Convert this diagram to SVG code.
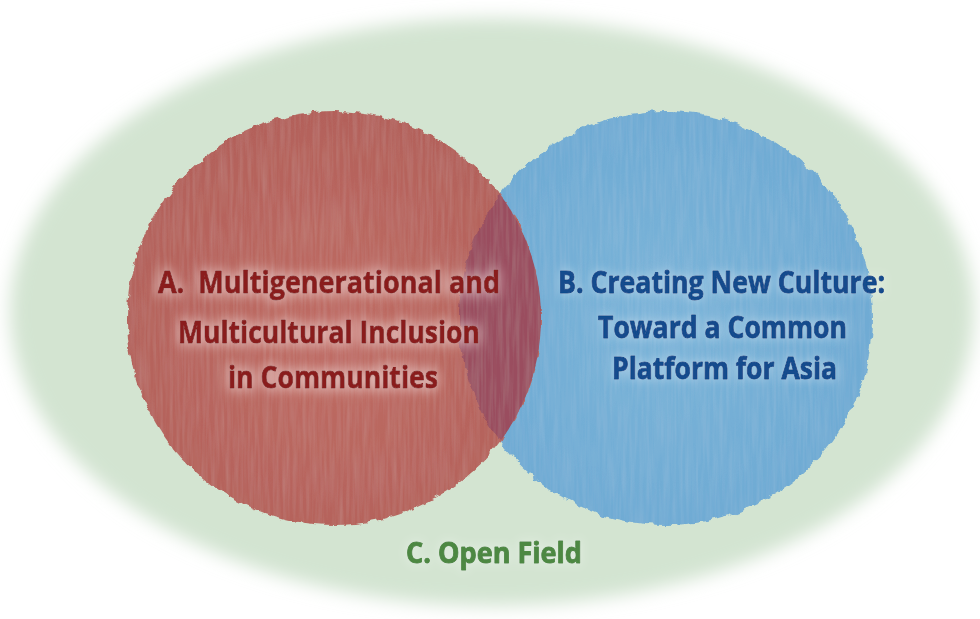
<svg xmlns="http://www.w3.org/2000/svg" width="980" height="619" viewBox="0 0 980 619">
  <defs>
    <style>
      .lbl { font-family: "Open Sans", "Liberation Sans", "DejaVu Sans", sans-serif; font-weight: bold; white-space: pre; stroke-width: 0.9px; stroke-linejoin: round; }
      .lbl-a { fill: #8a1d1d; stroke: #8a1d1d; font-size: 30px; }
      .lbl-b { fill: #124b8d; stroke: #124b8d; font-size: 30px; }
      .lbl-c { fill: #4d8843; stroke: #4d8843; font-size: 28px; }
    </style>
    <!-- soft edge of the open field -->
    <filter id="haze" x="-5%" y="-5%" width="110%" height="110%">
      <feGaussianBlur stdDeviation="9"/>
    </filter>
    <!-- watercolour wash: ragged rim plus faint vertical brush streaks -->
    <filter id="wash" x="-6%" y="-6%" width="112%" height="112%">
      <feTurbulence type="fractalNoise" baseFrequency="0.09" numOctaves="3" seed="4" result="noise"/>
      <feDisplacementMap in="SourceGraphic" in2="noise" scale="8" xChannelSelector="R" yChannelSelector="G" result="rough"/>
      <feTurbulence type="fractalNoise" baseFrequency="0.3 0.02" numOctaves="2" seed="9" result="grain"/>
      <feColorMatrix in="grain" type="matrix" values="0 0 0 0 1  0 0 0 0 1  0 0 0 0 1  0 0 0 0.12 -0.04" result="streak"/>
      <feComposite in="streak" in2="rough" operator="in" result="streakIn"/>
      <feMerge>
        <feMergeNode in="rough"/>
        <feMergeNode in="streakIn"/>
      </feMerge>
    </filter>
    <!-- pale halo behind the labels -->
    <filter id="glow" x="-15%" y="-60%" width="130%" height="220%">
      <feMorphology in="SourceAlpha" operator="dilate" radius="2" result="fat"/>
      <feGaussianBlur in="fat" stdDeviation="6" result="blur"/>
      <feColorMatrix in="blur" type="matrix" values="0 0 0 0 1  0 0 0 0 0.93  0 0 0 0 0.93  0 0 0 0.45 0" result="halo"/>
      <feMerge>
        <feMergeNode in="halo"/>
        <feMergeNode in="SourceGraphic"/>
      </feMerge>
    </filter>
    <filter id="glowSoft" x="-15%" y="-60%" width="130%" height="220%">
      <feMorphology in="SourceAlpha" operator="dilate" radius="1" result="fat"/>
      <feGaussianBlur in="fat" stdDeviation="5" result="blur"/>
      <feColorMatrix in="blur" type="matrix" values="0 0 0 0 1  0 0 0 0 1  0 0 0 0 1  0 0 0 0.3 0" result="halo"/>
      <feMerge>
        <feMergeNode in="halo"/>
        <feMergeNode in="SourceGraphic"/>
      </feMerge>
    </filter>
    <clipPath id="clipA">
      <circle cx="334" cy="318" r="207"/>
    </clipPath>
    <radialGradient id="redFill" cx="0.5" cy="0.55" r="0.55">
      <stop offset="0" stop-color="#bf6c64"/>
      <stop offset="1" stop-color="#b3615a"/>
    </radialGradient>
    <radialGradient id="blueFill" cx="0.5" cy="0.5" r="0.55">
      <stop offset="0" stop-color="#7bb4d9"/>
      <stop offset="1" stop-color="#6eaad3"/>
    </radialGradient>
  </defs>

  <rect width="980" height="619" fill="#ffffff"/>

  <!-- C: the open field -->
  <g id="node-c">
    <ellipse cx="492" cy="312" rx="482" ry="294" fill="#d3e4d1" filter="url(#haze)"/>
  </g>

  <!-- B: blue circle -->
  <g id="node-b">
    <circle cx="666" cy="318" r="207" fill="url(#blueFill)" filter="url(#wash)"/>
  </g>

  <!-- A: red circle and the overlap lens -->
  <g id="node-a">
    <circle cx="334" cy="318" r="207" fill="url(#redFill)" filter="url(#wash)"/>
    <g clip-path="url(#clipA)">
      <circle cx="666" cy="318" r="207" fill="#9a4e5e" filter="url(#wash)"/>
    </g>
  </g>

  <g id="connectors"/>

  <!-- labels -->
  <g id="label-a" filter="url(#glow)">
    <text class="lbl lbl-a" x="158" y="293" textLength="342" lengthAdjust="spacingAndGlyphs">A.  Multigenerational and</text>
    <text class="lbl lbl-a" x="178" y="343" textLength="302" lengthAdjust="spacingAndGlyphs">Multicultural Inclusion</text>
    <text class="lbl lbl-a" x="228" y="388" textLength="210" lengthAdjust="spacingAndGlyphs">in Communities</text>
  </g>
  <g id="label-b" filter="url(#glowSoft)">
    <text class="lbl lbl-b" x="558" y="293" textLength="327" lengthAdjust="spacingAndGlyphs">B. Creating New Culture:</text>
    <text class="lbl lbl-b" x="598" y="338" textLength="249" lengthAdjust="spacingAndGlyphs">Toward a Common</text>
    <text class="lbl lbl-b" x="612" y="379" textLength="225" lengthAdjust="spacingAndGlyphs">Platform for Asia</text>
  </g>
  <g id="label-c" filter="url(#glowSoft)">
    <text class="lbl lbl-c" x="406" y="563" textLength="176" lengthAdjust="spacingAndGlyphs">C. Open Field</text>
  </g>
</svg>
